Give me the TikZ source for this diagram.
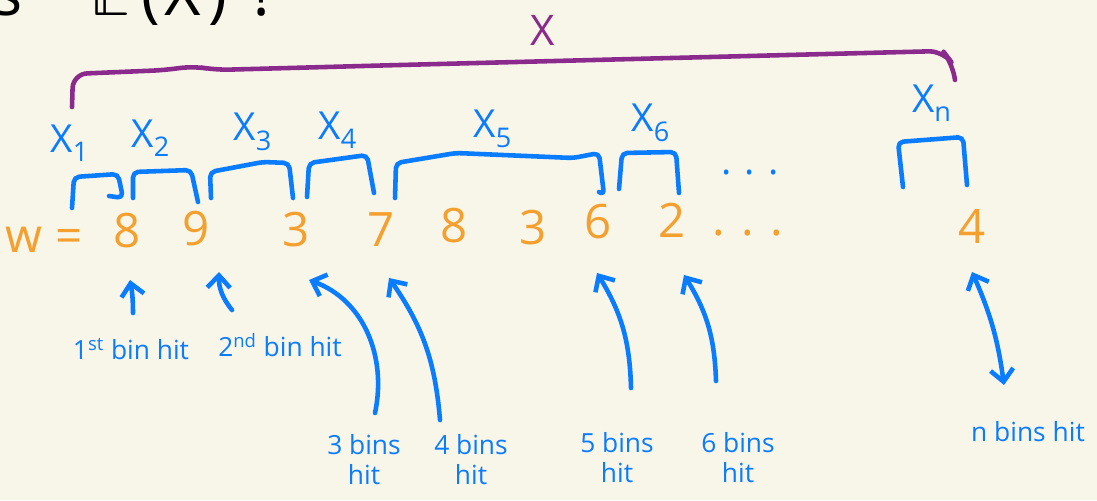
\documentclass[tikz,border=0pt]{standalone}
\usepackage{fontspec}
\usepackage{unicode-math}
\setmainfont{Open Sans}
\usetikzlibrary{arrows.meta}

\definecolor{papier}{HTML}{F8F5E9}
\definecolor{stift}{HTML}{0A7CFF}
\definecolor{wertfarbe}{HTML}{F5A02E}
\definecolor{lila}{HTML}{8A2A8C}

\tikzset{
    spitze/.tip={Straight Barb[length=7pt,width=13pt]},
    wert/.style={text=wertfarbe, font=\fontsize{27}{29}\selectfont, inner sep=1pt},
    zufall/.style={text=stift, font=\fontsize{22}{24}\selectfont, inner sep=1pt},
    notiz/.style={text=stift, font=\fontsize{15}{17}\selectfont, align=center, inner sep=1pt},
    klammer/.style={draw=stift, line width=2.6pt, line cap=round, line join=round, rounded corners=3pt},
    bogen/.style={draw=lila, line width=2.6pt, line cap=round, line join=round, rounded corners=8pt},
    pfeil/.style={draw=stift, line width=2.6pt, line cap=round, -spitze}
}

\begin{document}
\begin{tikzpicture}[x=0.02cm, y=-0.02cm]
    \path[use as bounding box, fill=papier] (0,0) rectangle (1097,500);
    \clip (0,0) rectangle (1097,500);
    \path node[anchor=base west, font=\fontsize{36}{38}\selectfont, inner sep=0pt] (frage) at (-8,16) {s\hspace{1.35cm}$\mathbb{E}$\hspace{0.25cm}(\hspace{0.1cm}X\hspace{0.15cm})\hspace{0.45cm}?}
        node[text=lila, font=\fontsize{24}{26}\selectfont] (gesamt) at (543,30) {X}
        node[wert] (w) at (44,240) {w =}
        node[wert] (a1) at (127,231) {8}
        node[wert] (a2) at (196,229) {9}
        node[wert] (a3) at (296,230) {3}
        node[wert] (a4) at (381,230) {7}
        node[wert] (a5) at (454,226) {8}
        node[wert] (a6) at (533,228) {3}
        node[wert] (a7) at (598,222) {6}
        node[wert] (a8) at (672,220) {2}
        node[wert] (pkt) at (748,233) {. . .}
        node[wert] (an) at (972,226) {4}
        node[zufall] (x1) at (70,143) {X\textsubscript{1}}
        node[zufall] (x2) at (151,138) {X\textsubscript{2}}
        node[zufall] (x3) at (253,132) {X\textsubscript{3}}
        node[zufall] (x4) at (338,130) {X\textsubscript{4}}
        node[zufall] (x5) at (493,129) {X\textsubscript{5}}
        node[zufall] (x6) at (651,123) {X\textsubscript{6}}
        node[zufall] (xn) at (932,103) {X\textsubscript{n}}
        node[zufall] (xpkt) at (750,172) {. . .}
        node[notiz] (l1) at (131,349) {1\textsuperscript{st} bin hit}
        node[notiz] (l2) at (280,345) {2\textsuperscript{nd} bin hit}
        node[notiz] (l3) at (364,460) {3 bins\\hit}
        node[notiz] (l4) at (471,460) {4 bins\\hit}
        node[notiz] (l5) at (617,458) {5 bins\\hit}
        node[notiz] (l6) at (738,458) {6 bins\\hit}
        node[notiz] (ln) at (1028,432) {n bins hit};
    \draw[bogen] (72,107) -- (73,74) -- (167,70) -- (193,66) -- (215,70) -- (400,65) -- (943,51) -- (952,63) -- (955,80);
    \draw[klammer] (72,208) -- (74,177) -- (118,174) -- (123,198) -- (109,196);
    \draw[klammer] (133,198) -- (133,172) -- (191,170) -- (198,202);
    \draw[klammer] (211,198) -- (210,172) -- (263,162) -- (289,163) -- (293,198);
    \draw[klammer] (307,197) -- (309,163) -- (367,155) -- (374,193);
    \draw[klammer] (395,198) -- (396,163) -- (456,153) -- (573,158) -- (599,153) -- (604,195) -- (599,192);
    \draw[klammer] (619,189) -- (622,153) -- (676,152) -- (679,193);
    \draw[klammer] (903,187) -- (898,142) -- (963,137) -- (967,185);
    \draw[pfeil] ([shift={(2,-36)}]l1.center) to[bend right=5] ([shift={(3,49)}]a1.center);
    \draw[pfeil] ([shift={(-48,-35)}]l2.center) to[bend left=20] ([shift={(23,43)}]a2.center);
    \draw[pfeil] ([shift={(11,-47)}]l3.center) to[out=78, in=-20] ([shift={(13,50)}]a3.center);
    \draw[pfeil] ([shift={(-31,-40)}]l4.center) to[bend right=15] ([shift={(8,48)}]a4.center);
    \draw[pfeil] ([shift={(14,-70)}]l5.center) to[bend right=15] ([shift={(-1,51)}]a7.center);
    \draw[pfeil] ([shift={(-22,-77)}]l6.center) to[bend right=15] ([shift={(12,55)}]a8.center);
    \draw[pfeil, spitze-spitze] ([shift={(-24,-47)}]ln.center) to[bend right=8] ([shift={(0,46)}]an.center);
\end{tikzpicture}
\end{document}
